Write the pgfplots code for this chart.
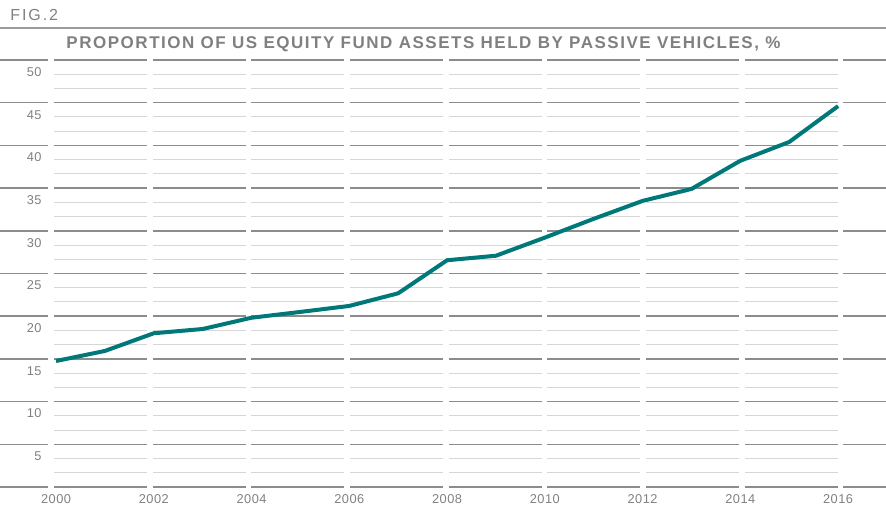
\documentclass[border=0pt]{standalone}
\usepackage{pgfplots}
\pgfplotsset{compat=1.18}
\usepackage{fontspec}
\setmainfont{Liberation Sans}
\definecolor{darkgrid}{HTML}{8C8C8C}
\definecolor{lightgrid}{HTML}{D6D6D6}
\definecolor{txtgray}{HTML}{808080}
\definecolor{teal2}{HTML}{00787A}
\begin{document}
\begin{tikzpicture}
\begin{axis}[
  name=ax,
  scale only axis,
  width=443pt, height=213.5pt,
  xmin=1998.854, xmax=2016.98,
  ymin=0, ymax=50,
  clip=false,
  axis line style={draw=none},
  major tick length=0pt,
  xtick={2000,2002,...,2016},
  ytick={5,10,...,50},
  extra y ticks={0}, extra y tick labels={},
  extra y tick style={ymajorgrids=true},
  ymajorgrids=true,
  major grid style={draw=darkgrid, line width=0.75pt},
  /pgf/number format/assume math mode=true,
  xticklabel={\addfontfeature{LetterSpace=4}\pgfmathprintnumber[1000 sep={}]{\tick}},
  yticklabel={\addfontfeature{LetterSpace=4}\pgfmathprintnumber{\tick}},
  ticklabel style={font=\fontsize{6.4pt}{7pt}\selectfont, text=txtgray, inner sep=0pt},
  yticklabel style={anchor=east, xshift=21pt, yshift=-6pt},
  xticklabel style={anchor=north, yshift=-3.5pt},
]
% light minor lines
\pgfplotsinvokeforeach{1.6667,3.3333,6.6667,8.3333,11.6667,13.3333,16.6667,18.3333,21.6667,23.3333,26.6667,28.3333,31.6667,33.3333,36.6667,38.3333,41.6667,43.3333,46.6667,48.3333}{
  \draw[lightgrid, line width=0.5pt] (axis cs:1999.96,#1) -- (axis cs:2016.0,#1);
}
% white gaps in grid
\pgfplotsinvokeforeach{1999.898,2001.917,2003.936,2005.956,2007.975,2009.995,2012.012,2014.032,2016.051}{
  \fill[white] ([xshift=-1.4pt]axis cs:#1,-0.15) rectangle ([xshift=1.4pt]axis cs:#1,50.15);
}
\addplot[teal2, line width=2pt, line join=round, line cap=butt] coordinates {
(2000,14.75) (2001,15.93) (2002,18.0) (2003,18.5) (2004,19.82) (2005,20.5)
(2006,21.2) (2007,22.68) (2008,26.55) (2009,27.08) (2010,29.2) (2011,31.4)
(2012,33.5) (2013,34.9) (2014,38.2) (2015,40.4) (2016,44.6)
};
\end{axis}
\draw[darkgrid!85, line width=0.75pt] ([yshift=16pt]ax.north west) -- ([yshift=16pt]ax.north east);
\node[anchor=west, inner sep=0pt, text=txtgray, font=\bfseries\fontsize{8.5pt}{10pt}\selectfont\addfontfeature{LetterSpace=9}] at ([xshift=33pt, yshift=8pt]ax.north west) {PROPORTION OF US EQUITY FUND ASSETS HELD BY PASSIVE VEHICLES, \%};
\node[anchor=west, inner sep=0pt, text=txtgray, font=\fontsize{8pt}{10pt}\selectfont\addfontfeature{LetterSpace=12}] at ([xshift=5pt, yshift=22.5pt]ax.north west) {FIG.2};
\pgfresetboundingbox
\path[use as bounding box] ([yshift=-10.5pt]ax.south west) rectangle ([yshift=30pt]ax.north east);
\end{tikzpicture}
\end{document}
